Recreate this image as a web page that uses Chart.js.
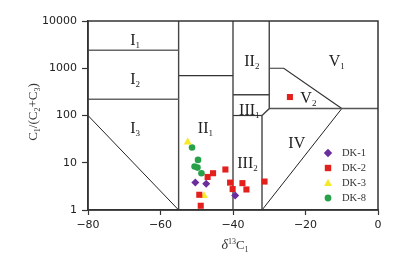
<!DOCTYPE html>
<html><head><meta charset="utf-8">
<script src="https://cdn.jsdelivr.net/npm/chart.js@4/dist/chart.umd.min.js"></script>
<style>html,body{margin:0;padding:0;background:#fff}#wrap{width:416px;height:264px}</style>
</head><body><div id="wrap"><canvas id="c" width="416" height="264"></canvas></div>
<script>
// ---- data ----
const seriesNames = ['DK-1', 'DK-2', 'DK-3', 'DK-8'];
const dk1X = [-50.4, -47.4, -39.4];
const dk1Y = [3.8, 3.6, 2.03];
const dk2X = [-24.3, -45.5, -47.0, -42.1, -40.8, -40.1, -37.4, -36.3, -31.3, -49.3, -48.9];
const dk2Y = [246, 6.0, 5.0, 7.2, 3.8, 2.77, 3.7, 2.72, 4.0, 2.1, 1.23];
const dk3X = [-52.5, -48.0];
const dk3Y = [27.2, 2.0];
const dk8X = [-51.3, -49.65, -50.6, -49.8, -48.7];
const dk8Y = [21, 11.5, 8.3, 7.9, 6.0];
const xTicks = [-80, -60, -40, -20, 0];
const yTicks = [1, 10, 100, 1000, 10000];

// genetic-type field boundaries (x = d13C1, y = C1/(C2+C3))
const bI12X = [-80, -55], bI12Y = [2400, 2400];
const bI23X = [-80, -55], bI23Y = [220, 220];
const bI3dX = [-80, -55], bI3dY = [100, 1];
const bV55X = [-55, -55], bV55Y = [1, 10000];
const bII1X = [-55, -40], bII1Y = [700, 700];
const bV40X = [-40, -40], bV40Y = [1, 10000];
const bII2X = [-40, -30], bII2Y = [275, 275];
const bV30X = [-30, -30, -32, -32], bV30Y = [10000, 140, 100, 1];
const bIII1X = [-40, -32], bIII1Y = [100, 100];
const bIVtX = [-30, 0], bIVtY = [140, 140];
const bV12X = [-30, -26, -10], bV12Y = [1000, 1000, 140];
const bIVdX = [-32, -10], bIVdY = [1, 140];

const regionMain = ['I', 'I', 'I', 'II', 'II', 'III', 'III', 'IV', 'V', 'V'];
const regionSub = ['1', '2', '3', '1', '2', '1', '2', '', '1', '2'];
const regionX = [-67, -67, -67, -47.6, -34.8, -35.5, -36.0, -22.4, -11.4, -19.2];
const regionY = [4100, 630, 56, 58, 1480, 135, 10.6, 28, 1480, 250];

const pts = (xs, ys) => xs.map((x, i) => ({x: x, y: ys[i]}));
const colors = ['#6b2d9e', '#e3201b', '#f4ea2a', '#27a24a'];
const shapes = ['rectRot', 'rect', 'triangle', 'circle'];
const radii = [4, 4.3, 4.6, 3.3];
const seriesX = [dk1X, dk2X, dk3X, dk8X];
const seriesY = [dk1Y, dk2Y, dk3Y, dk8Y];

const datasets = seriesNames.map((n, i) => ({
  label: n, data: pts(seriesX[i], seriesY[i]),
  pointStyle: shapes[i], pointRadius: radii[i], pointHoverRadius: radii[i],
  backgroundColor: colors[i], borderColor: colors[i], borderWidth: 0, order: 0
}));
const lineSpec = [
  [bI12X, bI12Y, '#666', 1.6], [bI23X, bI23Y, '#666', 1.6], [bI3dX, bI3dY, '#222', 1],
  [bV55X, bV55Y, '#444', 1.4], [bII1X, bII1Y, '#333', 1.2], [bV40X, bV40Y, '#444', 1.4],
  [bII2X, bII2Y, '#444', 1.4], [bV30X, bV30Y, '#444', 1.4], [bIII1X, bIII1Y, '#333', 1.2],
  [bIVtX, bIVtY, '#555', 1.5], [bV12X, bV12Y, '#333', 1.2], [bIVdX, bIVdY, '#222', 1]
];
lineSpec.forEach(s => datasets.push({
  label: '', data: pts(s[0], s[1]), showLine: true, pointRadius: 0, pointHoverRadius: 0,
  borderColor: s[2], borderWidth: s[3], fill: false, tension: 0, order: 5
}));

function richText(ctx, parts, x, y, align) {
  let w = 0;
  parts.forEach(p => { ctx.font = p.f; w += ctx.measureText(p.t).width; });
  let cx = align === 'center' ? x - w / 2 : x;
  ctx.textBaseline = 'alphabetic'; ctx.textAlign = 'left';
  parts.forEach(p => { ctx.font = p.f; ctx.fillText(p.t, cx, y + (p.dy || 0)); cx += ctx.measureText(p.t).width; });
}

const deco = {
  id: 'deco',
  afterDatasetsDraw(chart) {
    const ctx = chart.ctx, a = chart.chartArea, xs = chart.scales.x, ys = chart.scales.y;
    ctx.save();
    ctx.strokeStyle = '#333'; ctx.lineWidth = 1.5;
    ctx.strokeRect(a.left, a.top, a.right - a.left, a.bottom - a.top);
    // region labels
    ctx.fillStyle = '#222';
    const MF = '16px "Liberation Serif"', SF = '9px "Liberation Serif"';
    regionMain.forEach((m, i) => {
      const px = xs.getPixelForValue(regionX[i]), py = ys.getPixelForValue(regionY[i]) + 6;
      const parts = [{t: m, f: MF}];
      if (regionSub[i]) parts.push({t: regionSub[i], f: SF, dy: 3});
      richText(ctx, parts, px, py, 'center');
    });
    // x title
    ctx.fillStyle = '#333';
    richText(ctx, [
      {t: 'δ', f: 'italic 14px "Liberation Serif"'},
      {t: '13', f: '8px "Liberation Serif"', dy: -5},
      {t: 'C', f: '13px "Liberation Serif"'},
      {t: '1', f: '8px "Liberation Serif"', dy: 3}
    ], 235, 249, 'center');
    // y title
    ctx.save();
    ctx.translate(37, 112); ctx.rotate(-Math.PI / 2);
    const B = '13px "Liberation Serif"', S = '8px "Liberation Serif"';
    richText(ctx, [
      {t: 'C', f: B}, {t: '1', f: S, dy: 3}, {t: '/(C', f: B}, {t: '2', f: S, dy: 3},
      {t: '+C', f: B}, {t: '3', f: S, dy: 3}, {t: ')', f: B}
    ], 0, 0, 'center');
    ctx.restore();
    // legend
    const ly = [153, 168, 183, 198];
    seriesNames.forEach((n, i) => {
      const x = 328, y = ly[i];
      ctx.fillStyle = colors[i];
      ctx.beginPath();
      if (i === 0) { ctx.moveTo(x - 4.2, y); ctx.lineTo(x, y - 4.2); ctx.lineTo(x + 4.2, y); ctx.lineTo(x, y + 4.2); }
      else if (i === 1) { ctx.rect(x - 3.2, y - 3.2, 6.4, 6.4); }
      else if (i === 2) { ctx.moveTo(x, y - 4.2); ctx.lineTo(x + 4, y + 3); ctx.lineTo(x - 4, y + 3); }
      else { ctx.arc(x, y, 3.4, 0, Math.PI * 2); }
      ctx.closePath(); ctx.fill();
      ctx.fillStyle = '#333'; ctx.font = '10.5px "Liberation Serif"';
      ctx.textAlign = 'left'; ctx.textBaseline = 'middle';
      ctx.fillText(n, 342, y + 0.5);
    });
    ctx.restore();
  }
};

new Chart(document.getElementById('c'), {
  type: 'scatter',
  data: {datasets: datasets},
  options: {
    responsive: false, devicePixelRatio: 1, animation: false,
    layout: {padding: {left: 0, right: 38, top: 21, bottom: 0}},
    plugins: {legend: {display: false}, tooltip: {enabled: false}},
    scales: {
      x: {
        type: 'linear', min: -80, max: 0,
        afterBuildTicks: s => { s.ticks = xTicks.map(v => ({value: v})); },
        afterFit: s => { s.height = 54; },
        ticks: {callback: v => String(v).replace('-', '\u2212'), color: '#222', padding: 4,
                font: {family: 'DejaVu Sans', size: 11}, maxRotation: 0},
        grid: {drawOnChartArea: false, drawTicks: true, tickLength: 5, tickColor: '#333', tickWidth: 1.2},
        border: {display: true, color: '#333', width: 1.5}
      },
      y: {
        type: 'logarithmic', min: 1, max: 10000,
        afterBuildTicks: s => { s.ticks = yTicks.map(v => ({value: v})); },
        afterFit: s => { s.width = 88; },
        ticks: {callback: v => String(v), color: '#222', padding: 5,
                font: {family: 'DejaVu Sans', size: 11}},
        grid: {drawOnChartArea: false, drawTicks: true, tickLength: 6, tickColor: '#333', tickWidth: 1.2},
        border: {display: true, color: '#333', width: 1.5}
      }
    }
  },
  plugins: [deco]
});
</script></body></html>
